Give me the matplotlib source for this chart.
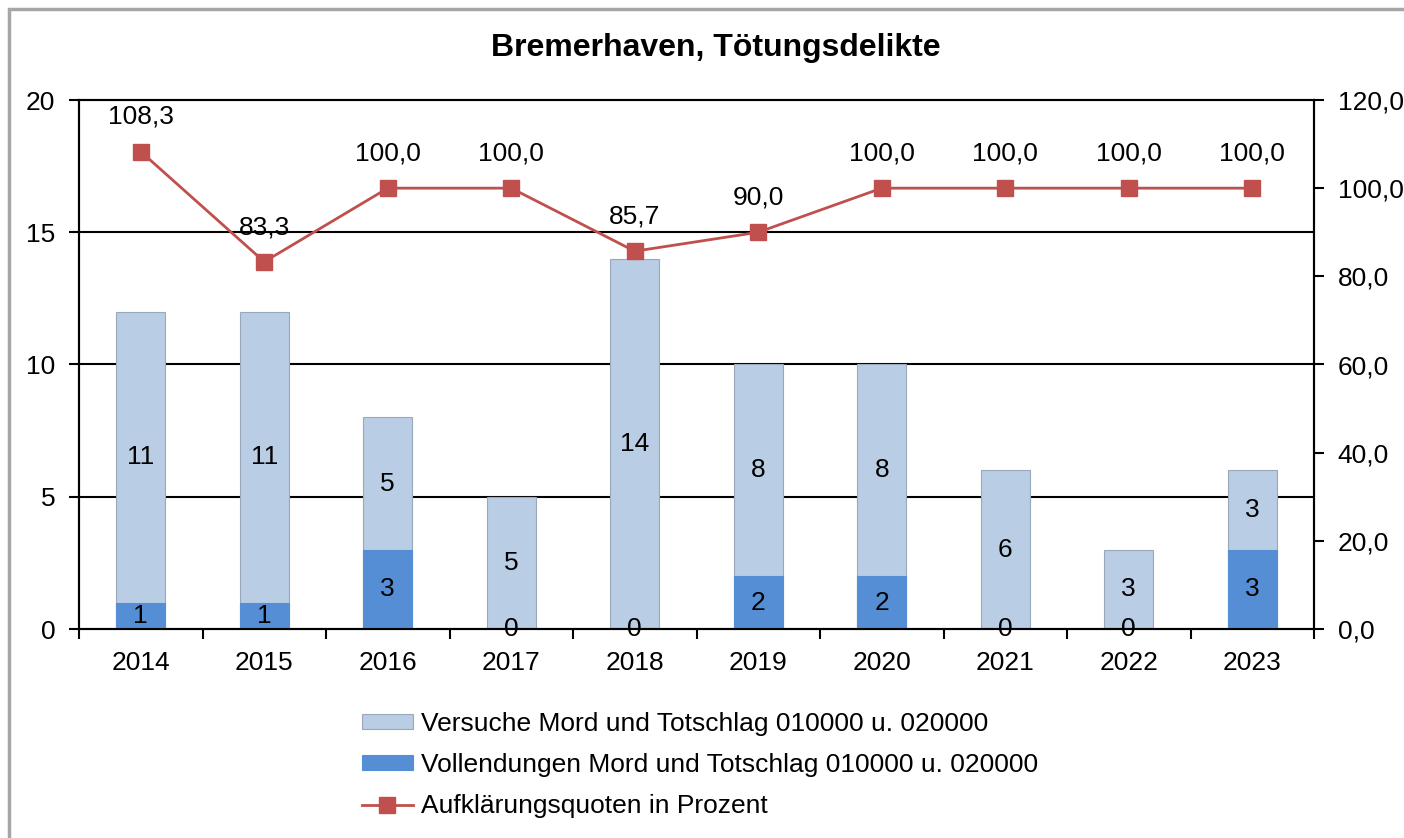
import matplotlib.pyplot as plt
from matplotlib.patches import Rectangle
from matplotlib.ticker import FuncFormatter
import numpy as np

plt.rcParams['font.family'] = ['Liberation Sans', 'DejaVu Sans']

years = ["2014", "2015", "2016", "2017", "2018", "2019", "2020", "2021", "2022", "2023"]
versuche = [11, 11, 5, 5, 14, 8, 8, 6, 3, 3]
vollendungen = [1, 1, 3, 0, 0, 2, 2, 0, 0, 3]
quoten = [108.3, 83.3, 100.0, 100.0, 85.7, 90.0, 100.0, 100.0, 100.0, 100.0]

# light bar is drawn behind from 0 up to the total, dark bar in front
totals = [a + b for a, b in zip(versuche, vollendungen)]

c_light = "#B9CDE5"
c_dark = "#558ED5"
c_red = "#C0504D"
fs = 19

fig = plt.figure(figsize=(14.04, 8.38), dpi=100)
fig.patches.append(Rectangle((9/1404, -0.1), 1.2, 1 - 9/838 + 0.1, transform=fig.transFigure,
                             fill=False, edgecolor="#A6A6A6", linewidth=2.5))

ax = fig.add_axes([79/1404, 1 - 629/838, (1314 - 79)/1404, (629 - 100)/838])
x = np.arange(len(years))
w = 0.4

ax.bar(x, totals, w, color=c_light, edgecolor="#9AA8BA", linewidth=0.8, zorder=2,
       label="Versuche Mord und Totschlag 010000 u. 020000")
ax.bar(x, vollendungen, w, color=c_dark, edgecolor=c_dark, linewidth=0.8, zorder=3,
       label="Vollendungen Mord und Totschlag 010000 u. 020000")

for i in range(len(years)):
    ax.text(x[i], vollendungen[i] + (totals[i] - vollendungen[i]) / 2, str(versuche[i]),
            ha="center", va="center", fontsize=fs, zorder=5)
    ax.text(x[i], vollendungen[i] / 2, str(vollendungen[i]),
            ha="center", va="center", fontsize=fs, zorder=5)

ax.set_ylim(0, 20)
ax.set_xlim(-0.5, len(years) - 0.5)
ax.set_yticks([0, 5, 10, 15, 20])
for yv in [5, 10, 15]:
    ax.axhline(yv, color="black", linewidth=1.5, zorder=1)
ax.set_xticks(x)
ax.set_xticklabels(years, fontsize=fs)
ax.set_xticks(np.arange(-0.5, len(years)), minor=True)
ax.tick_params(axis="x", which="major", length=0, pad=16)
ax.tick_params(axis="x", which="minor", length=7, width=1.5, direction="out")
ax.tick_params(axis="y", labelsize=fs, length=7, width=1.5, direction="out", pad=10)
for s in ax.spines.values():
    s.set_linewidth(1.5)

ax2 = ax.twinx()
ax2.plot(x, quoten, color=c_red, linewidth=2, marker="s", markersize=11, zorder=6,
         label="Aufklärungsquoten in Prozent")
for i in range(len(years)):
    ax2.annotate(f"{quoten[i]:.1f}".replace(".", ","), (x[i], quoten[i]),
                 xytext=(0, 25), textcoords="offset points", ha="center", va="center",
                 fontsize=fs)
ax2.set_ylim(0, 120)
ax2.set_yticks(np.arange(0, 121, 20))
ax2.yaxis.set_major_formatter(FuncFormatter(lambda v, p: f"{v:.1f}".replace(".", ",")))
ax2.tick_params(axis="y", labelsize=fs, length=7, width=1.5, direction="out", pad=10)
for s in ax2.spines.values():
    s.set_linewidth(1.5)

fig.text(716/1404, 1 - 48/838, "Bremerhaven, Tötungsdelikte", ha="center", va="center",
         fontsize=23, fontweight="bold")

h1, l1 = ax.get_legend_handles_labels()
h2, l2 = ax2.get_legend_handles_labels()
fig.legend(h1 + h2, l1 + l2, loc="upper left", bbox_to_anchor=(362/1404, 1 - 712/838),
           frameon=False, fontsize=fs, handlelength=1.93, handleheight=0.5,
           labelspacing=0.65, handletextpad=0.3, borderpad=0, borderaxespad=0)

fig.savefig("out.png", dpi=100)
